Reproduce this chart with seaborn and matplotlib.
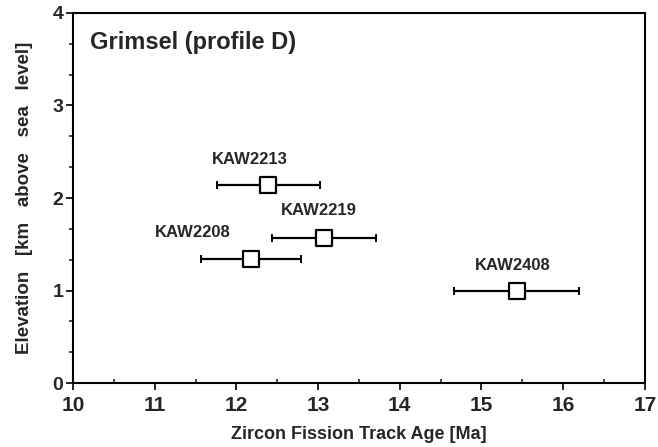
import matplotlib
matplotlib.use("Agg")
import matplotlib.pyplot as plt
from matplotlib.ticker import MultipleLocator
import seaborn as sns
import pandas as pd

samples = ["KAW2213", "KAW2219", "KAW2208", "KAW2408"]
age = [12.39, 13.07, 12.18, 15.43]
age_err = [0.63, 0.64, 0.61, 0.77]
elevation = [2.14, 1.57, 1.34, 0.99]

# label offsets in pixels (dx, dy) relative to the point
label_offsets = [(-18, 26), (-5, 27), (-58, 27), (-4, 26)]

df = pd.DataFrame({"sample": samples, "age": age, "err": age_err, "elev": elevation})

sns.set_style("ticks")
plt.rcParams["font.family"] = ["Liberation Sans", "DejaVu Sans"]
plt.rcParams["font.weight"] = "bold"

fig = plt.figure(figsize=(6.58, 4.47), dpi=100)
ax = fig.add_axes([0.111, 0.143, 0.869, 0.828])

ax.errorbar(df["age"], df["elev"], xerr=df["err"], fmt="none",
            ecolor="black", elinewidth=1.6, capsize=3, capthick=1.4, zorder=2)
sns.scatterplot(data=df, x="age", y="elev", marker="s", s=130,
                facecolor="white", edgecolor="black", linewidth=1.6,
                zorder=3, ax=ax, legend=False)

for name, x, y, (dx, dy) in zip(df["sample"], df["age"], df["elev"], label_offsets):
    ax.annotate(name, (x, y), xytext=(dx, dy), textcoords="offset pixels",
                ha="center", va="center", fontsize=12, fontweight="bold")

ax.text(0.03, 0.92, "Grimsel (profile D)", transform=ax.transAxes,
        fontsize=17, fontweight="bold", ha="left", va="center")

ax.set_xlim(10, 17)
ax.set_ylim(0, 4)
ax.xaxis.set_major_locator(MultipleLocator(1))
ax.xaxis.set_minor_locator(MultipleLocator(0.5))
ax.yaxis.set_major_locator(MultipleLocator(1))
ax.yaxis.set_minor_locator(MultipleLocator(1 / 3))

ax.tick_params(axis="x", which="major", direction="out", length=5, width=1.4,
               labelsize=15, pad=4)
ax.tick_params(axis="x", which="minor", direction="in", length=3, width=1.2)
ax.tick_params(axis="y", which="major", direction="out", length=5, width=1.4,
               labelsize=14, pad=2)
ax.tick_params(axis="y", which="minor", direction="out", length=3, width=1.2)
for lab in ax.get_xticklabels() + ax.get_yticklabels():
    lab.set_fontweight("bold")

for side in ["left", "bottom", "right", "top"]:
    ax.spines[side].set_visible(True)
    ax.spines[side].set_linewidth(1.5)
    ax.spines[side].set_color("black")

ax.set_xlabel("Zircon Fission Track Age [Ma]", fontsize=13, fontweight="bold", labelpad=8)
ax.set_ylabel("Elevation   [km   above   sea   level]", fontsize=13.5, fontweight="bold", labelpad=14)

fig.savefig("out.png", dpi=100, facecolor="white")
